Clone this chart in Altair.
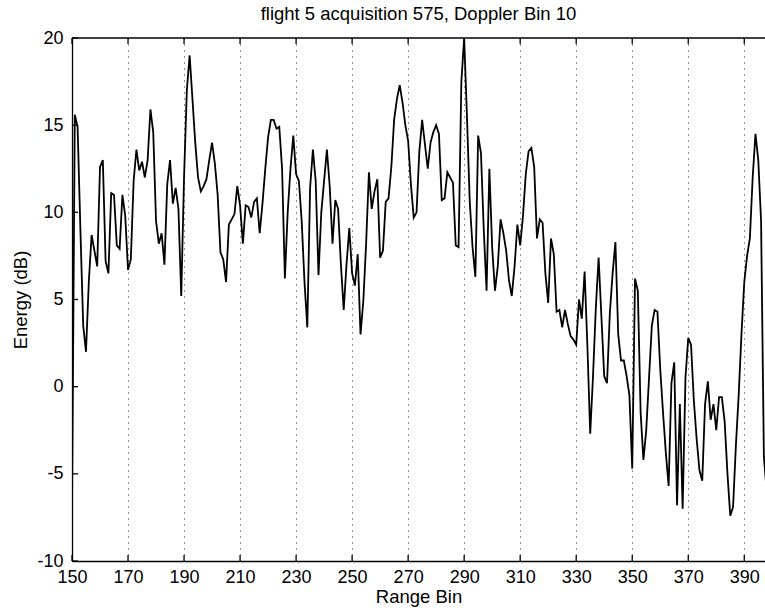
import altair as alt
import pandas as pd

# ---- data ----
bins = list(range(150, 399))
energy = [
    -7.0, 15.6, 14.9, 9.0, 3.5, 2.0, 6.0, 8.7, 7.8, 6.9,          # 150-159
    12.6, 13.0, 7.2, 6.5, 11.1, 11.0, 8.1, 7.9, 11.0, 9.8,        # 160-169
    6.7, 7.3, 11.8, 13.6, 12.4, 12.9, 12.0, 13.0, 15.9, 14.6,     # 170-179
    9.5, 8.2, 8.8, 7.0, 11.6, 13.0, 10.5, 11.4, 10.2, 5.2,        # 180-189
    12.0, 17.0, 19.0, 16.5, 14.0, 12.0, 11.2, 11.5, 11.9, 13.0,   # 190-199
    14.0, 12.8, 11.0, 7.7, 7.3, 6.0, 9.3, 9.6, 9.9, 11.5,         # 200-209
    10.4, 8.2, 10.4, 10.3, 9.7, 10.6, 10.8, 8.8, 10.5, 12.5,      # 210-219
    14.3, 15.3, 15.3, 14.8, 14.9, 12.5, 6.2, 10.0, 12.5, 14.4,    # 220-229
    12.2, 11.8, 9.5, 6.0, 3.4, 11.4, 13.6, 11.8, 6.4, 10.0,       # 230-239
    11.8, 13.6, 11.5, 8.2, 10.7, 10.2, 7.0, 4.4, 7.0, 9.1,        # 240-249
    6.5, 5.8, 7.6, 3.0, 4.9, 8.2, 12.3, 10.2, 11.2, 11.9,         # 250-259
    7.4, 7.8, 10.6, 10.8, 12.6, 15.3, 16.5, 17.3, 16.3, 15.0,     # 260-269
    14.1, 11.6, 9.7, 10.0, 13.5, 15.3, 13.9, 12.5, 14.0, 14.6,    # 270-279
    15.0, 14.5, 10.7, 10.8, 12.3, 12.0, 11.7, 8.1, 8.0, 17.5,     # 280-289
    20.0, 15.5, 10.6, 8.0, 6.3, 14.4, 13.4, 9.0, 5.5, 12.5,       # 290-299
    8.0, 5.5, 6.9, 9.6, 8.8, 7.8, 6.1, 5.2, 6.9, 9.3,             # 300-309
    8.1, 9.8, 12.2, 13.5, 13.7, 12.6, 8.5, 9.6, 9.4, 6.5,         # 310-319
    4.8, 8.5, 7.6, 4.3, 4.4, 3.4, 4.4, 3.6, 2.9, 2.7,             # 320-329
    2.4, 5.0, 3.9, 6.6, 2.3, -2.7, 0.6, 4.5, 7.4, 4.0,            # 330-339
    0.6, 0.2, 4.2, 6.5, 8.3, 3.0, 1.5, 1.5, 0.6, -0.5,            # 340-349
    -4.7, 6.2, 5.5, -1.5, -4.2, -2.5, 0.5, 3.5, 4.4, 4.3,         # 350-359
    1.0, -1.5, -3.8, -5.7, 0.2, 1.4, -6.8, -1.0, -7.0, 0.5,       # 360-369
    2.8, 2.4, -0.8, -3.0, -4.8, -5.4, -1.0, 0.3, -1.9, -1.0,      # 370-379
    -2.5, -0.6, -0.6, -2.0, -5.0, -7.4, -6.9, -3.4, -0.5, 3.0,    # 380-389
    6.0, 7.5, 8.5, 12.0, 14.5, 13.0, 9.5, -4.0, -6.0,             # 390-398
]
x_ticks = [150, 170, 190, 210, 230, 250, 270, 290, 310, 330, 350, 370, 390]
y_ticks = [-10, -5, 0, 5, 10, 15, 20]

title_text = "flight 5 acquisition 575, Doppler Bin 10"
x_title = "Range Bin"
y_title = "Energy (dB)"

# ---- layout ----
W, H = 693, 523
X_MIN, X_MAX = 150, 397.4
Y_MIN, Y_MAX = -10, 20
FONT = "Liberation Sans"
TICK_PX = 6
tick_dy = TICK_PX * (Y_MAX - Y_MIN) / H
tick_dx = TICK_PX * (X_MAX - X_MIN) / W

df = pd.DataFrame({"bin": bins, "energy": energy})
xt = pd.DataFrame({"bin": x_ticks})
yt = pd.DataFrame({"energy": y_ticks})

xscale = alt.Scale(domain=[X_MIN, X_MAX], nice=False, zero=False)
yscale = alt.Scale(domain=[Y_MIN, Y_MAX], nice=False, zero=False)

x_axis = alt.Axis(
    values=x_ticks, grid=True, gridDash=[1, 5], gridColor="#222", gridWidth=1,
    ticks=False, tickSize=0, domain=True, domainColor="black", domainWidth=1.3,
    labelFont=FONT, labelFontSize=18, labelColor="black", labelPadding=7,
    labelFlush=False, labelOverlap=False, format="d",
    title=x_title, titleFont=FONT, titleFontSize=18.5, titleFontWeight="normal",
    titleColor="black", titleBaseline="alphabetic", titleY=41,
)
y_axis = alt.Axis(
    values=y_ticks, grid=False, ticks=False, tickSize=0, domain=True,
    domainColor="black", domainWidth=1.3,
    labelFont=FONT, labelFontSize=18, labelColor="black", labelPadding=9,
    labelOverlap=False, labelFlush=False,
    labelExpr="datum.value < 0 ? '-' + format(-datum.value, 'd') : format(datum.value, 'd')",
    title=y_title, titleFont=FONT, titleFontSize=18.5, titleFontWeight="normal",
    titleColor="black", titleAngle=270, titleBaseline="alphabetic",
    titleAlign="center", titleX=-46, titleY=H / 2,
)

line = alt.Chart(df).mark_line(color="black", strokeWidth=1.8, clip=True).encode(
    x=alt.X("bin:Q", scale=xscale, axis=x_axis),
    y=alt.Y("energy:Q", scale=yscale, axis=y_axis),
)

top_frame = alt.Chart(xt).mark_rule(color="black", strokeWidth=1.3).encode(
    x=alt.X("min(bin):Q", scale=xscale),
    x2=alt.datum(X_MAX),
    y=alt.datum(Y_MAX),
)

bottom_ticks = alt.Chart(xt).mark_rule(color="black", strokeWidth=1.3).encode(
    x=alt.X("bin:Q", scale=xscale),
    y=alt.datum(Y_MIN),
    y2=alt.datum(Y_MIN + tick_dy),
)
top_ticks = alt.Chart(xt).mark_rule(color="black", strokeWidth=1.3).encode(
    x=alt.X("bin:Q", scale=xscale),
    y=alt.datum(Y_MAX),
    y2=alt.datum(Y_MAX - tick_dy),
)
left_ticks = alt.Chart(yt).mark_rule(color="black", strokeWidth=1.3).encode(
    y=alt.Y("energy:Q", scale=yscale),
    x=alt.datum(X_MIN),
    x2=alt.datum(X_MIN + tick_dx),
)

chart = alt.layer(line, top_frame, bottom_ticks, top_ticks, left_ticks).properties(
    width=W, height=H,
    title=alt.TitleParams(
        title_text, font=FONT, fontSize=18.5, fontWeight="normal", color="black",
        anchor="middle", offset=6,
    ),
    autosize=alt.AutoSizeParams(type="none"),
    padding={"left": 72, "top": 38, "right": 0, "bottom": 49},
    background="white",
).configure_view(stroke=None)

chart.save("out.html", embed_options={"renderer": "svg", "actions": False})
